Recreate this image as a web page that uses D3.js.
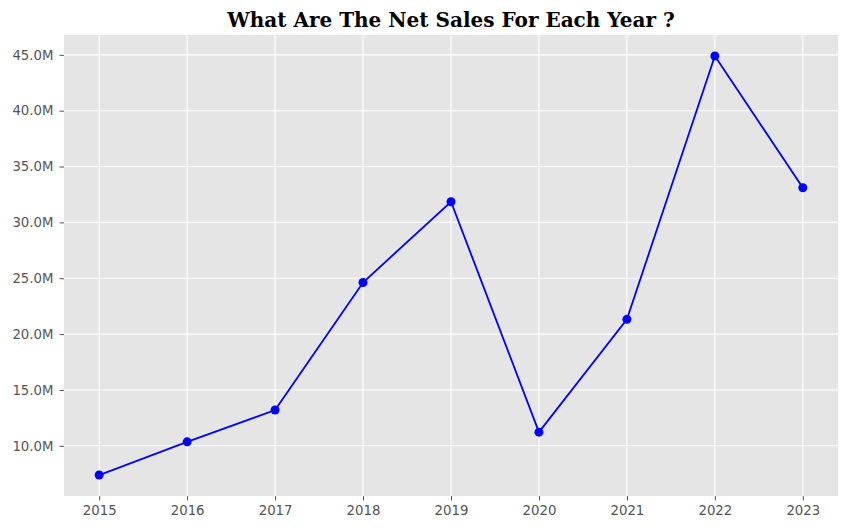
<!DOCTYPE html>
<html>
<head>
<meta charset="utf-8">
<script src="https://cdn.jsdelivr.net/npm/d3@7"></script>
<style>
  html, body { margin: 0; padding: 0; background: #fff; }
  svg { display: block; }
</style>
</head>
<body>
<svg id="chart" width="847" height="530"></svg>
<script>
const years = [2015, 2016, 2017, 2018, 2019, 2020, 2021, 2022, 2023];
const netSales = [7.38e6, 10.35e6, 13.2e6, 24.62e6, 31.85e6, 11.22e6, 21.32e6, 44.9e6, 33.1e6];
const yTicks = [10e6, 15e6, 20e6, 25e6, 30e6, 35e6, 40e6, 45e6];
const titleText = "What Are The Net Sales For Each Year ?";

(function () {
const svg = d3.select("#chart");
const pL = 64, pR = 838, pT = 35, pB = 496;

const x = d3.scaleLinear().domain([2014.6, 2023.4]).range([pL, pR]);
const ymin = d3.min(netSales), ymax = d3.max(netSales), pad = (ymax - ymin) * 0.05;
const y = d3.scaleLinear().domain([ymin - pad, ymax + pad]).range([pB, pT]);

svg.append("rect").attr("x", pL).attr("y", pT)
  .attr("width", pR - pL).attr("height", pB - pT).attr("fill", "#E5E5E5");

// grid
svg.append("g").selectAll("line").data(years).join("line")
  .attr("x1", d => x(d)).attr("x2", d => x(d)).attr("y1", pT).attr("y2", pB)
  .attr("stroke", "#fff").attr("stroke-width", 1.1);
svg.append("g").selectAll("line").data(yTicks).join("line")
  .attr("x1", pL).attr("x2", pR).attr("y1", d => y(d)).attr("y2", d => y(d))
  .attr("stroke", "#fff").attr("stroke-width", 1.1);

// axes
const fmt = d => (d / 1e6).toFixed(1) + "M";
const yAxis = svg.append("g").attr("transform", `translate(${pL},0)`)
  .call(d3.axisLeft(y).tickValues(yTicks).tickFormat(fmt).tickSize(4.5).tickPadding(6));
const xAxis = svg.append("g").attr("transform", `translate(0,${pB})`)
  .call(d3.axisBottom(x).tickValues(years).tickFormat(d3.format("d")).tickSize(4.5).tickPadding(5));
[xAxis, yAxis].forEach(a => {
  a.select(".domain").remove();
  a.selectAll(".tick line").attr("stroke", "#555").attr("stroke-width", 1);
  a.selectAll(".tick text").attr("fill", "#555")
    .style("font-family", "DejaVu Sans").style("font-size", "13.3px");
});

// line
const line = d3.line().x((d, i) => x(years[i])).y(d => y(d));
svg.append("path").datum(netSales).attr("d", line)
  .attr("fill", "none").attr("stroke", "#0000ff").attr("stroke-width", 1.8);
svg.append("g").selectAll("circle").data(netSales).join("circle")
  .attr("cx", (d, i) => x(years[i])).attr("cy", d => y(d)).attr("r", 4.5)
  .attr("fill", "#0000ff");

// title
svg.append("text").attr("x", (pL + pR) / 2).attr("y", 27).attr("text-anchor", "middle")
  .style("font-family", "DejaVu Serif").style("font-weight", "bold").style("font-size", "20px")
  .attr("fill", "#000").text(titleText);
})();
</script>
</body>
</html>
